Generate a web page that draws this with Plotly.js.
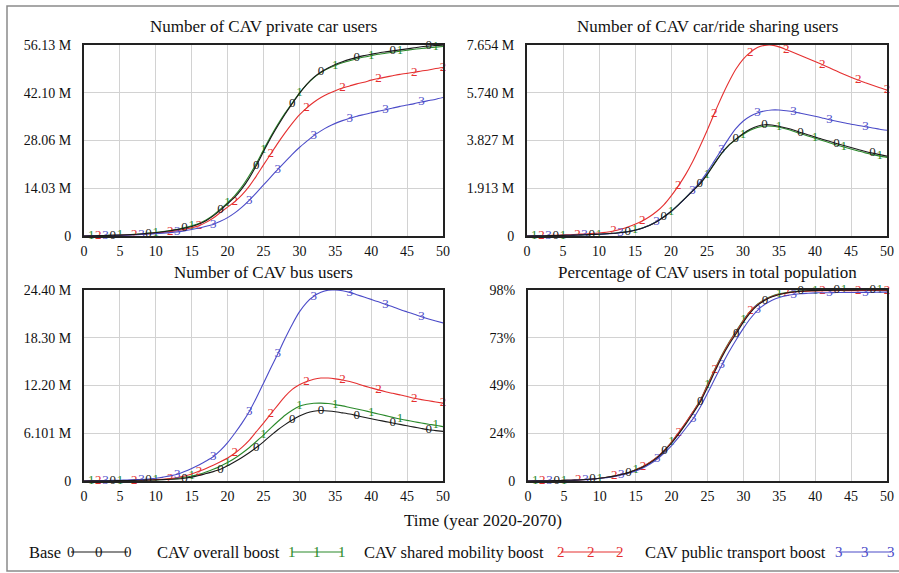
<!DOCTYPE html>
<html><head><meta charset="utf-8">
<script src="https://cdn.plot.ly/plotly-3.0.1.min.js"></script>
<style>html,body{margin:0;padding:0;background:#fff}#chart{width:899px;height:573px}</style>
</head><body><div id="chart"></div>
<script>
// ---- data (time in years since 2020) ----
const years = [0,1,2,3,4,5,6,7,8,9,10,11,12,13,14,15,16,17,18,19,20,21,22,23,24,25,26,27,28,29,30,31,32,33,34,35,36,37,38,39,40,41,42,43,44,45,46,47,48,49,50];

const seriesNames = ["Base","CAV overall boost","CAV shared mobility boost","CAV public transport boost"];
const seriesDigits = ["0","1","2","3"];

// Number of CAV private car users (millions)
const privBase  = [0,0.05,0.1,0.15,0.2,0.27,0.35,0.45,0.6,0.8,1.0,1.25,1.55,1.9,2.3,2.8,3.5,4.5,5.9,7.6,9.5,11.4,13.9,17.0,20.7,24.8,28.8,32.4,35.8,38.9,41.9,44.5,46.6,48.2,49.4,50.4,51.2,51.9,52.5,53.0,53.4,53.8,54.1,54.4,54.7,55.0,55.3,55.6,55.8,56.0,56.1];
const privAll   = [0,0.05,0.1,0.16,0.22,0.3,0.38,0.5,0.65,0.85,1.05,1.3,1.6,2.0,2.45,3.0,3.7,4.7,6.1,7.9,9.8,11.9,14.5,17.7,21.3,25.3,29.2,32.8,36.1,39.1,42.0,44.5,46.5,48.0,49.2,50.1,50.9,51.5,52.1,52.6,53.0,53.4,53.7,54.0,54.3,54.6,54.9,55.1,55.3,55.5,55.7];
const privShare = [0,0.04,0.08,0.12,0.17,0.23,0.3,0.4,0.52,0.68,0.85,1.05,1.3,1.6,1.95,2.4,3.0,4.0,5.3,6.9,8.5,10.1,12.1,14.6,17.6,20.9,24.1,27.3,30.3,33.1,35.6,37.6,39.3,40.7,41.8,42.7,43.5,44.1,44.7,45.2,45.8,46.3,46.7,47.1,47.5,47.8,48.1,48.5,48.8,49.2,49.5];
const privPT    = [0,0.04,0.08,0.12,0.16,0.21,0.27,0.35,0.45,0.57,0.7,0.85,1.0,1.2,1.5,1.9,2.35,2.85,3.4,4.3,5.4,6.8,8.5,10.5,12.7,15.0,17.3,19.6,21.8,24.0,26.0,27.8,29.5,30.9,32.1,33.1,33.9,34.6,35.2,35.7,36.2,36.7,37.1,37.6,38.1,38.5,38.9,39.4,39.8,40.2,40.7];

// Number of CAV car/ride sharing users (millions)
const shareBase  = [0,0.005,0.01,0.015,0.02,0.025,0.03,0.04,0.05,0.06,0.07,0.09,0.11,0.14,0.17,0.23,0.31,0.42,0.57,0.76,0.98,1.24,1.52,1.8,2.08,2.45,2.88,3.3,3.63,3.88,4.1,4.28,4.4,4.46,4.45,4.4,4.33,4.25,4.15,4.06,3.97,3.88,3.8,3.71,3.63,3.55,3.47,3.39,3.32,3.26,3.2];
const shareAll   = [0,0.005,0.01,0.015,0.02,0.025,0.03,0.04,0.05,0.06,0.07,0.09,0.11,0.14,0.18,0.24,0.32,0.43,0.58,0.77,0.99,1.25,1.53,1.82,2.1,2.47,2.9,3.3,3.62,3.86,4.07,4.24,4.35,4.4,4.4,4.36,4.29,4.2,4.1,4.01,3.92,3.83,3.74,3.65,3.57,3.49,3.41,3.33,3.26,3.2,3.15];
const shareShare = [0,0.005,0.01,0.02,0.03,0.04,0.05,0.07,0.08,0.1,0.12,0.15,0.2,0.27,0.36,0.47,0.6,0.77,0.98,1.25,1.6,2.0,2.45,2.98,3.58,4.22,4.9,5.55,6.15,6.68,7.08,7.36,7.55,7.64,7.65,7.58,7.47,7.35,7.23,7.11,6.99,6.87,6.74,6.61,6.48,6.36,6.25,6.14,6.04,5.94,5.85];
const sharePT    = [0,0.005,0.01,0.015,0.02,0.025,0.03,0.04,0.05,0.06,0.07,0.08,0.1,0.13,0.17,0.23,0.31,0.43,0.58,0.76,0.98,1.24,1.52,1.82,2.15,2.55,3.0,3.45,3.9,4.3,4.6,4.8,4.93,5.01,5.05,5.05,5.02,4.98,4.92,4.86,4.8,4.73,4.66,4.6,4.54,4.48,4.43,4.38,4.33,4.28,4.24];

// Number of CAV bus users (millions)
const busBase  = [0,0.01,0.02,0.03,0.04,0.05,0.06,0.08,0.1,0.12,0.15,0.18,0.22,0.25,0.35,0.5,0.7,0.95,1.2,1.5,1.95,2.45,3.0,3.6,4.28,5.0,5.8,6.55,7.2,7.79,8.3,8.7,8.92,9.0,8.95,8.85,8.7,8.55,8.35,8.15,7.95,7.77,7.59,7.41,7.23,7.05,6.88,6.71,6.55,6.44,6.34];
const busAll   = [0,0.01,0.02,0.03,0.04,0.05,0.06,0.08,0.1,0.12,0.15,0.2,0.26,0.34,0.47,0.64,0.85,1.15,1.5,1.9,2.35,2.9,3.55,4.25,5.05,5.86,6.75,7.6,8.4,9.05,9.55,9.8,9.93,9.95,9.9,9.76,9.6,9.4,9.2,9.0,8.78,8.56,8.35,8.13,7.92,7.74,7.57,7.41,7.26,7.13,6.95];
const busShare = [0,0.01,0.02,0.03,0.04,0.05,0.07,0.09,0.11,0.14,0.18,0.23,0.3,0.45,0.65,0.9,1.24,1.6,2.0,2.45,2.95,3.55,4.3,5.2,6.3,7.4,8.56,9.7,10.8,11.7,12.3,12.7,13.0,13.15,13.15,13.05,12.9,12.7,12.45,12.15,11.9,11.64,11.4,11.2,11.0,10.8,10.57,10.4,10.25,10.1,9.95];
const busPT    = [0,0.02,0.04,0.06,0.08,0.1,0.13,0.16,0.2,0.26,0.35,0.5,0.65,0.86,1.2,1.6,2.05,2.55,3.1,3.9,4.9,6.1,7.4,8.86,10.6,12.5,14.4,16.27,18.2,20.0,21.6,22.8,23.6,24.1,24.38,24.4,24.3,24.1,23.8,23.5,23.2,22.9,22.56,22.25,21.9,21.6,21.3,20.98,20.7,20.45,20.2];

// Percentage of CAV users in total population (%)
const pctBase  = [0,0.05,0.1,0.15,0.2,0.3,0.4,0.55,0.75,1.0,1.4,1.9,2.5,3.3,4.3,5.6,7.2,9.3,12.0,15.4,19.5,24.2,29.3,34.8,40.5,48.0,56.0,63.5,70.0,75.7,81.5,86.5,90.2,92.7,94.5,95.7,96.5,97.0,97.4,97.6,97.7,97.8,97.8,97.9,97.9,97.9,98.0,98.0,98.0,98.0,98.0];
const pctAll   = [0,0.05,0.1,0.15,0.2,0.3,0.4,0.55,0.75,1.0,1.4,1.9,2.5,3.4,4.4,5.8,7.4,9.6,12.4,15.9,20.0,24.8,30.0,35.6,41.5,49.5,57.3,64.7,71.2,77.0,82.6,87.3,90.8,93.2,94.9,96.0,96.7,97.2,97.5,97.7,97.8,97.9,97.9,98.0,98.0,98.0,98.0,98.0,98.0,98.0,98.0];
const pctShare = [0,0.05,0.1,0.15,0.2,0.3,0.4,0.55,0.75,1.0,1.4,1.9,2.5,3.4,4.4,5.8,7.4,9.6,12.3,15.8,20.0,25.0,30.1,35.6,41.3,49.0,56.9,64.3,70.8,76.6,82.2,87.2,90.6,93.0,94.7,95.8,96.4,96.9,97.2,97.4,97.5,97.6,97.6,97.7,97.7,97.7,97.7,97.8,97.8,97.8,97.8];
const pctPT    = [0,0.05,0.1,0.15,0.2,0.28,0.38,0.52,0.7,0.95,1.3,1.75,2.3,3.1,4.0,5.2,6.7,8.7,11.3,14.5,18.2,22.5,27.2,32.0,38.0,45.0,52.3,59.5,66.3,72.5,78.3,83.5,87.7,90.7,92.8,94.2,95.1,95.7,96.1,96.3,96.5,96.6,96.6,96.7,96.7,96.7,96.8,96.8,96.8,96.9,96.9];

// positions (in years) where each run's digit label is written on its line
const labelYears0 = [4,9,14,19,24,29,33,38,43,48];
const labelYears1 = [1,5,10,15,20,25,30,35,40,44,49];
const labelYears2 = [2,7,12,16,21,26,31,36,41,46,50];
const labelYears3 = [3,8,13,18,23,27,32,37,42,47];

// titles and axis tick labels
const panelTitles = ["Number of CAV private car users","Number of CAV car/ride sharing users","Number of CAV bus users","Percentage of CAV users in total population"];
const yTickVals = [[0,14.0325,28.065,42.0975,56.13],[0,1.9135,3.827,5.7405,7.654],[0,6.1,12.2,18.3,24.4],[0,24.5,49,73.5,98]];
const yTickText = [["0","14.03 M","28.06 M","42.10 M","56.13 M"],["0","1.913 M","3.827 M","5.740 M","7.654 M"],["0","6.101 M","12.20 M","18.30 M","24.40 M"],["0","24%","49%","73%","98%"]];
const xTickVals = [0,5,10,15,20,25,30,35,40,45,50];
const xAxisTitle = "Time (year 2020-2070)";

// ---- styling ----
const colors = ["#1a1a1a","#2b8a2b","#e53030","#4b4bc8"];
const serif = "Liberation Serif, Times New Roman, serif";
const W = 899, H = 573;
const px = v => v / W;
const py = v => 1 - v / H;

const panelData = [
  [privBase, privAll, privShare, privPT],
  [shareBase, shareAll, shareShare, sharePT],
  [busBase, busAll, busShare, busPT],
  [pctBase, pctAll, pctShare, pctPT]
];
const labelYears = [labelYears0, labelYears1, labelYears2, labelYears3];

// pixel boxes of each plot area [left, right, top, bottom]
const boxes = [[84,443,45,236],[527,887,45,236],[84,443,290,481],[528,887,290,481]];

const traces = [];
const drawOrder = [1,2,3,0];
panelData.forEach((series, p) => {
  const ax = p === 0 ? "" : String(p + 1);
  drawOrder.forEach(s => {
    const txt = years.map(y => labelYears[s].includes(y) ? seriesDigits[s] : "");
    traces.push({
      x: years, y: series[s], type: "scatter", mode: "lines+text",
      text: txt, textposition: "middle center",
      textfont: {family: serif, size: 13, color: colors[s]},
      line: {color: colors[s], width: 1.1, shape: "spline", smoothing: 0.6},
      cliponaxis: false, showlegend: false, hoverinfo: "skip",
      xaxis: "x" + ax, yaxis: "y" + ax, name: seriesNames[s]
    });
  });
});

const layout = {
  width: W, height: H, margin: {l:0, r:0, t:0, b:0},
  paper_bgcolor: "#fff", plot_bgcolor: "#fff", showlegend: false,
  font: {family: serif, color: "#111"},
  annotations: [], shapes: []
};

boxes.forEach((b, p) => {
  const ax = p === 0 ? "" : String(p + 1);
  layout["xaxis" + ax] = {
    domain: [px(b[0]), px(b[1])], range: [0, 50], tickvals: xTickVals,
    showgrid: true, gridcolor: "#d2d2d2", gridwidth: 1, zeroline: false,
    showline: true, mirror: true, linecolor: "#222", linewidth: 2,
    ticks: "", ticklabelstandoff: 1, tickfont: {family: serif, size: 14, color: "#111"},
    anchor: "y" + ax, fixedrange: true
  };
  layout["yaxis" + ax] = {
    domain: [py(b[3]), py(b[2])], range: [0, yTickVals[p][4]],
    tickvals: yTickVals[p], ticktext: yTickText[p],
    showgrid: true, gridcolor: "#d2d2d2", gridwidth: 1, zeroline: false,
    showline: true, mirror: true, linecolor: "#222", linewidth: 2,
    ticks: "", ticklabelstandoff: 8, tickfont: {family: serif, size: 14, color: "#111"},
    anchor: "x" + ax, fixedrange: true
  };
  layout.annotations.push({
    text: panelTitles[p], xref: "paper", yref: "paper",
    x: px((b[0] + b[1]) / 2), y: py(b[2] - 18), xanchor: "center", yanchor: "middle",
    showarrow: false, font: {family: serif, size: 17, color: "#111"}
  });
});

// common x-axis title
layout.annotations.push({
  text: xAxisTitle, xref: "paper", yref: "paper", x: px(483), y: py(520),
  xanchor: "center", yanchor: "middle", showarrow: false,
  font: {family: serif, size: 17, color: "#111"}
});

// legend row: label, then a sample line with three digits
const legendLabelX = [27, 155, 362, 643];
const legendDigitX = [[71, 99, 128], [292, 317, 342], [561, 591, 620], [839, 865, 891]];
const legY = 552;
seriesNames.forEach((name, s) => {
  layout.annotations.push({
    text: name, xref: "paper", yref: "paper", x: px(legendLabelX[s]), y: py(legY),
    xanchor: "left", yanchor: "middle", showarrow: false,
    font: {family: serif, size: 16.5, color: "#111"}
  });
  const d = legendDigitX[s];
  layout.shapes.push({type: "line", xref: "paper", yref: "paper",
    x0: px(d[0]), x1: px(d[2]), y0: py(legY), y1: py(legY),
    line: {color: colors[s], width: 1.2}});
  d.forEach(xx => {
    layout.annotations.push({
      text: seriesDigits[s], xref: "paper", yref: "paper", x: px(xx), y: py(legY),
      xanchor: "center", yanchor: "middle", showarrow: false,
      font: {family: serif, size: 15, color: colors[s]}
    });
  });
});

// outer frame
layout.shapes.push({type: "rect", xref: "paper", yref: "paper",
  x0: px(7), x1: px(905), y0: py(571), y1: py(6),
  line: {color: "#8a8a8a", width: 1.5}, fillcolor: "rgba(0,0,0,0)", layer: "below"});

Plotly.newPlot("chart", traces, layout, {staticPlot: true, displayModeBar: false});
</script>
</body></html>
